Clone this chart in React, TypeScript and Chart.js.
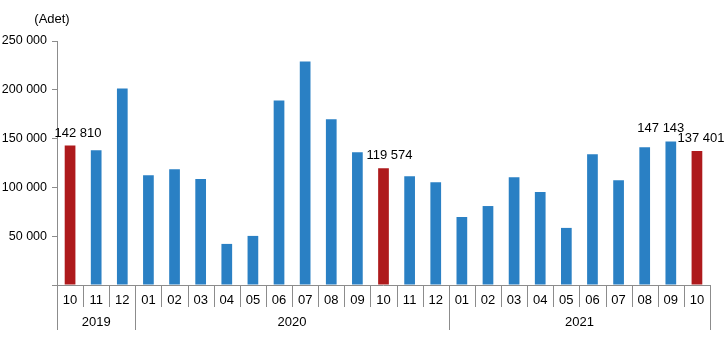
import React, { useEffect, useRef } from "react";
import { Chart, registerables } from "chart.js";

Chart.register(...registerables);

const months = ["10", "11", "12", "01", "02", "03", "04", "05", "06", "07", "08", "09", "10", "11", "12", "01", "02", "03", "04", "05", "06", "07", "08", "09", "10"];
const years = ["2019", "2020", "2021"];
const yearSpans = [3, 12, 10];
const values = [142810, 138000, 201300, 112500, 118700, 108700, 42100, 50300, 189000, 228900, 169700, 136000, 119574, 111500, 105400, 69700, 80900, 110500, 95200, 58500, 134000, 107400, 141100, 147143, 137401];
const highlighted = [0, 12, 24];
const labelled = [0, 12, 23, 24];
const labelOffsets = [8, 6, -10, 4];
const yTicks = [0, 50000, 100000, 150000, 200000, 250000];
const unitLabel = "(Adet)";

const BLUE = "#2A80C4";
const RED = "#AE1A1C";
const AXIS = "#8c8c8c";
const FONT = "Liberation Sans, Arial, sans-serif";

const fmt = (v: number) => String(v).replace(/\B(?=(\d{3})+(?!\d))/g, " ");

const decorPlugin = {
  id: "decor",
  afterDraw(chart: any) {
    const ctx = chart.ctx;
    const x = chart.scales.x;
    const y = chart.scales.y;
    const bottom = chart.chartArea.bottom;
    const n = months.length;
    const step = x.getPixelForValue(1) - x.getPixelForValue(0);
    const edge = (i: number) => x.getPixelForValue(0) - step / 2 + i * step;
    ctx.save();
    ctx.strokeStyle = AXIS;
    ctx.lineWidth = 1;
    // x axis line
    ctx.beginPath();
    ctx.moveTo(edge(0), Math.round(bottom) + 0.5);
    ctx.lineTo(edge(n), Math.round(bottom) + 0.5);
    ctx.stroke();
    // separators
    const yearBounds = new Set<number>();
    let acc = 0;
    yearBounds.add(0);
    yearSpans.forEach((s) => {
      acc += s;
      yearBounds.add(acc);
    });
    for (let i = 0; i <= n; i++) {
      const px = Math.round(edge(i)) + 0.5;
      const long = yearBounds.has(i);
      ctx.beginPath();
      ctx.moveTo(px, bottom);
      ctx.lineTo(px, bottom + (long ? 45 : 22));
      ctx.stroke();
    }
    // year labels
    ctx.fillStyle = "#000";
    ctx.font = "13px " + FONT;
    ctx.textAlign = "center";
    ctx.textBaseline = "middle";
    let start = 0;
    years.forEach((yr, i) => {
      const end = start + yearSpans[i];
      const cx = (edge(start) + edge(end)) / 2;
      ctx.fillText(yr, cx, bottom + 37);
      start = end;
    });
    // value labels
    ctx.textBaseline = "alphabetic";
    labelled.forEach((idx, k) => {
      const v = values[idx];
      const px = x.getPixelForValue(idx) + labelOffsets[k];
      const py = y.getPixelForValue(v) - 9;
      ctx.fillText(fmt(v), px, py);
    });
    // unit label
    ctx.fillText(unitLabel, 52, 23);
    ctx.restore();
  },
};

export default function App() {
  const ref = useRef<HTMLCanvasElement>(null);
  useEffect(() => {
    document.body.style.margin = "0";
    const chart = new Chart(ref.current!, {
      type: "bar",
      data: {
        labels: months,
        datasets: [
          {
            data: values,
            backgroundColor: values.map((_, i) => (highlighted.includes(i) ? RED : BLUE)),
            barPercentage: 0.41,
            categoryPercentage: 1,
          },
        ],
      },
      options: {
        animation: false,
        responsive: false,
        maintainAspectRatio: false,
        layout: { padding: { left: 0, right: 15, top: 41, bottom: 0 } },
        plugins: { legend: { display: false }, tooltip: { enabled: false } },
        scales: {
          x: {
            grid: { display: false, drawTicks: false },
            border: { display: false },
            ticks: { color: "#000", font: { size: 13, family: FONT }, padding: 8, maxRotation: 0, autoSkip: false },
            afterFit: (s: any) => {
              s.height = 76;
            },
          },
          y: {
            min: 0,
            max: 250000,
            afterBuildTicks: (s: any) => {
              s.ticks = yTicks.map((v) => ({ value: v }));
            },
            grid: { drawOnChartArea: false, drawTicks: true, tickLength: 5, color: AXIS },
            border: { display: true, color: AXIS },
            ticks: {
              color: "#000",
              font: { size: 12.5, family: FONT },
              padding: 5,
              callback: (v: any) => (v === 0 ? "" : fmt(Number(v))),
            },
            afterFit: (s: any) => {
              s.width = 57;
            },
          },
        },
      },
      plugins: [decorPlugin],
    });
    return () => chart.destroy();
  }, []);
  return <canvas ref={ref} width={725} height={361} style={{ display: "block" }} />;
}
